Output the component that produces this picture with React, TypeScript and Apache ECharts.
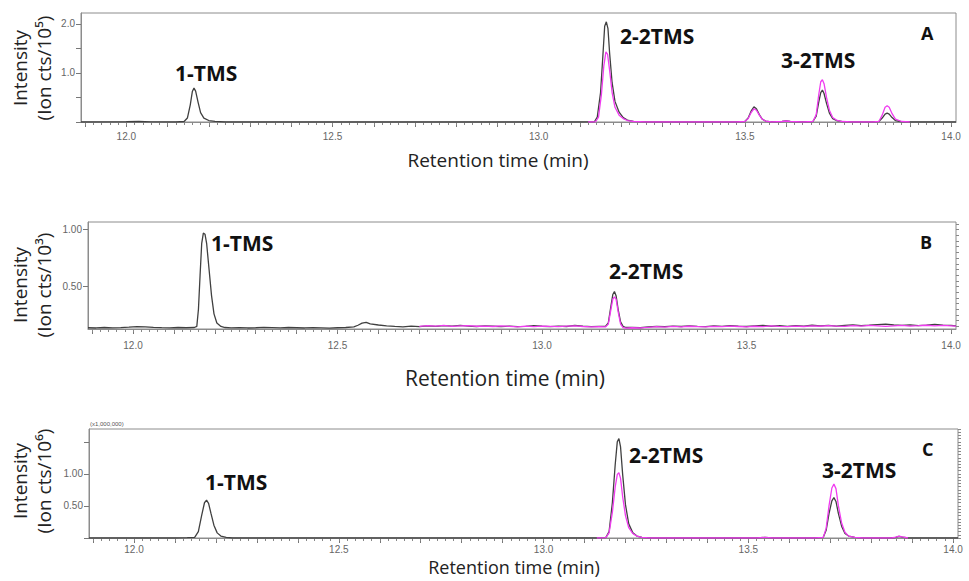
import React, { useEffect, useRef } from "react";
import * as echarts from "echarts";

// ---------- DATA ----------
// Retention time (min) vs intensity. Panel A: ion cts / 1e5
const aBlack: number[][] = [
  [11.89, 0], [12.0, 0.005], [12.03, 0.01], [12.06, 0.004], [12.12, 0], [12.14, 0.01], [12.148, 0.08], [12.155, 0.35],
  [12.16, 0.62], [12.164, 0.69], [12.168, 0.63], [12.174, 0.4], [12.18, 0.19], [12.188, 0.08],
  [12.2, 0.03], [12.215, 0.012], [12.24, 0], [12.7, 0], [13.1, 0], [13.135, 0.005], [13.142, 0.1],
  [13.15, 0.6], [13.156, 1.4], [13.16, 1.95], [13.164, 2.04], [13.168, 1.9], [13.172, 1.4],
  [13.178, 0.8], [13.185, 0.42], [13.195, 0.2], [13.205, 0.09], [13.215, 0.04], [13.23, 0.012],
  [13.26, 0], [13.48, 0], [13.5, 0.01], [13.508, 0.08], [13.515, 0.22], [13.522, 0.31],
  [13.528, 0.27], [13.535, 0.15], [13.542, 0.06], [13.55, 0.02], [13.565, 0], [13.59, 0.01],
  [13.6, 0.02], [13.61, 0.01], [13.64, 0], [13.665, 0.01], [13.673, 0.12], [13.679, 0.4],
  [13.684, 0.6], [13.688, 0.65], [13.692, 0.58], [13.698, 0.38], [13.705, 0.18], [13.713, 0.07],
  [13.722, 0.03], [13.735, 0.01], [13.76, 0], [13.81, 0], [13.825, 0.01], [13.833, 0.08],
  [13.84, 0.16], [13.845, 0.18], [13.85, 0.16], [13.857, 0.09], [13.865, 0.03], [13.88, 0.005],
  [13.9, 0], [14.012, 0],
];
const aMagenta: number[][] = [
  [13.12, 0], [13.138, 0.005], [13.145, 0.1], [13.152, 0.55], [13.158, 1.15],
  [13.163, 1.43], [13.167, 1.38], [13.172, 1.05], [13.178, 0.6], [13.185, 0.3], [13.195, 0.14],
  [13.205, 0.07], [13.215, 0.03], [13.23, 0.01], [13.26, 0], [13.48, 0], [13.5, 0.01],
  [13.508, 0.07], [13.515, 0.19], [13.522, 0.27], [13.528, 0.24], [13.535, 0.14], [13.542, 0.06],
  [13.55, 0.02], [13.565, 0], [13.59, 0.01], [13.6, 0.02], [13.61, 0.01], [13.64, 0],
  [13.665, 0.01], [13.673, 0.15], [13.679, 0.55], [13.684, 0.82], [13.688, 0.86], [13.692, 0.78],
  [13.698, 0.5], [13.705, 0.24], [13.713, 0.09], [13.722, 0.04], [13.735, 0.01], [13.76, 0],
  [13.81, 0], [13.825, 0.01], [13.833, 0.14], [13.84, 0.3], [13.845, 0.33], [13.85, 0.3],
  [13.857, 0.17], [13.865, 0.06], [13.88, 0.01], [13.9, 0],
];

// Panel B: ion cts / 1e3
const bBlack: number[][] = [
  [11.89, 0.138], [11.91, 0.136], [11.93, 0.14], [11.95, 0.137], [11.97, 0.139], [11.99, 0.143],
  [12.01, 0.148], [12.03, 0.146], [12.05, 0.142], [12.07, 0.139], [12.09, 0.137], [12.11, 0.14],
  [12.13, 0.138], [12.15, 0.14], [12.156, 0.15], [12.16, 0.3], [12.164, 0.6], [12.168, 0.88],
  [12.172, 0.97], [12.176, 0.96], [12.18, 0.88], [12.186, 0.65], [12.192, 0.42], [12.198, 0.26],
  [12.205, 0.18], [12.215, 0.15], [12.225, 0.14], [12.24, 0.137], [12.26, 0.139], [12.28, 0.136],
  [12.3, 0.138], [12.32, 0.141], [12.34, 0.139], [12.36, 0.137], [12.38, 0.14], [12.4, 0.138],
  [12.42, 0.136], [12.44, 0.139], [12.46, 0.137], [12.48, 0.135], [12.5, 0.138], [12.52, 0.14],
  [12.54, 0.145], [12.55, 0.16], [12.56, 0.178], [12.57, 0.185], [12.58, 0.172], [12.6, 0.162],
  [12.62, 0.155], [12.64, 0.15], [12.66, 0.146], [12.68, 0.152], [12.7, 0.148], [12.72, 0.155],
  [12.74, 0.15], [12.76, 0.156], [12.78, 0.152], [12.8, 0.158], [12.82, 0.153], [12.84, 0.149],
  [12.86, 0.155], [12.88, 0.151], [12.9, 0.147], [12.92, 0.152], [12.94, 0.148], [12.96, 0.15],
  [12.98, 0.156], [13.0, 0.151], [13.02, 0.148], [13.04, 0.153], [13.06, 0.149], [13.08, 0.158],
  [13.1, 0.151], [13.12, 0.148], [13.14, 0.15], [13.155, 0.15], [13.162, 0.18], [13.168, 0.32],
  [13.173, 0.43], [13.177, 0.456], [13.181, 0.42], [13.186, 0.3], [13.192, 0.19], [13.198, 0.15],
  [13.205, 0.14], [13.22, 0.142], [13.24, 0.138], [13.26, 0.145], [13.28, 0.15], [13.3, 0.147],
  [13.32, 0.153], [13.34, 0.149], [13.36, 0.155], [13.38, 0.15], [13.4, 0.148], [13.42, 0.154],
  [13.44, 0.15], [13.46, 0.157], [13.48, 0.152], [13.5, 0.149], [13.52, 0.155], [13.54, 0.158],
  [13.56, 0.151], [13.58, 0.156], [13.6, 0.15], [13.62, 0.157], [13.64, 0.153], [13.66, 0.16],
  [13.68, 0.154], [13.7, 0.158], [13.72, 0.152], [13.74, 0.159], [13.76, 0.163], [13.78, 0.156],
  [13.8, 0.16], [13.82, 0.166], [13.84, 0.17], [13.86, 0.162], [13.88, 0.158], [13.9, 0.163],
  [13.92, 0.157], [13.94, 0.161], [13.96, 0.168], [13.98, 0.16], [14.0, 0.158], [14.012, 0.155],
];
const bMagenta: number[][] = [
  [12.7, 0.15], [12.72, 0.156], [12.74, 0.152], [12.76, 0.158], [12.78, 0.15], [12.8, 0.155],
  [12.82, 0.157], [12.84, 0.151], [12.86, 0.153], [12.88, 0.149], [12.9, 0.154], [12.92, 0.15],
  [12.94, 0.146], [12.96, 0.152], [12.98, 0.148], [13.0, 0.153], [13.02, 0.15], [13.04, 0.147],
  [13.06, 0.152], [13.08, 0.155], [13.1, 0.149], [13.12, 0.146], [13.14, 0.148], [13.155, 0.145],
  [13.162, 0.17], [13.168, 0.29], [13.173, 0.39], [13.177, 0.41], [13.181, 0.39], [13.186, 0.28],
  [13.192, 0.17], [13.198, 0.14], [13.205, 0.135], [13.22, 0.138], [13.24, 0.136], [13.26, 0.142],
  [13.28, 0.147], [13.3, 0.144], [13.32, 0.15], [13.34, 0.146], [13.36, 0.151], [13.38, 0.148],
  [13.4, 0.145], [13.42, 0.15], [13.44, 0.147], [13.46, 0.152], [13.48, 0.149], [13.5, 0.146],
  [13.52, 0.151], [13.54, 0.148], [13.56, 0.154], [13.58, 0.15], [13.6, 0.147], [13.62, 0.152],
  [13.64, 0.149], [13.66, 0.155], [13.68, 0.151], [13.7, 0.157], [13.72, 0.153], [13.74, 0.15],
  [13.76, 0.156], [13.78, 0.152], [13.8, 0.158], [13.82, 0.154], [13.84, 0.15], [13.86, 0.155],
  [13.88, 0.159], [13.9, 0.153], [13.92, 0.156], [13.94, 0.16], [13.96, 0.154], [13.98, 0.158],
  [14.0, 0.155], [14.012, 0.152],
];

// Panel C: ion cts / 1e6
const cBlack: number[][] = [
  [11.89, 0], [12.1, 0], [12.13, 0.005], [12.148, 0.01], [12.157, 0.1], [12.165, 0.35],
  [12.172, 0.55], [12.177, 0.59], [12.182, 0.54], [12.188, 0.38], [12.195, 0.2], [12.203, 0.08],
  [12.212, 0.03], [12.225, 0.01], [12.24, 0], [13.13, 0], [13.152, 0.005], [13.16, 0.1],
  [13.168, 0.55], [13.175, 1.15], [13.18, 1.5], [13.184, 1.55], [13.188, 1.42], [13.193, 1.0],
  [13.2, 0.52], [13.208, 0.22], [13.218, 0.08], [13.228, 0.03], [13.24, 0.01], [13.26, 0],
  [13.52, 0], [13.54, 0.01], [13.56, 0], [13.66, 0], [13.683, 0.01], [13.69, 0.12], [13.697, 0.38],
  [13.704, 0.58], [13.709, 0.63], [13.714, 0.57], [13.72, 0.38], [13.728, 0.18], [13.736, 0.07],
  [13.745, 0.03], [13.76, 0.01], [13.78, 0], [13.85, 0], [13.86, 0.01], [13.868, 0.025],
  [13.876, 0.015], [13.89, 0], [14.012, 0],
];
const cMagenta: number[][] = [
  [13.13, 0], [13.152, 0.005], [13.16, 0.08], [13.168, 0.4], [13.175, 0.8],
  [13.18, 0.99], [13.184, 1.02], [13.188, 0.93], [13.193, 0.65], [13.2, 0.35], [13.208, 0.16],
  [13.218, 0.07], [13.228, 0.03], [13.24, 0.01], [13.26, 0], [13.52, 0], [13.54, 0.01], [13.56, 0],
  [13.66, 0], [13.683, 0.01], [13.69, 0.15], [13.697, 0.5], [13.704, 0.78], [13.709, 0.84],
  [13.714, 0.77], [13.72, 0.5], [13.728, 0.23], [13.736, 0.09], [13.745, 0.03], [13.76, 0.01],
  [13.78, 0], [13.85, 0], [13.86, 0.012], [13.868, 0.03], [13.876, 0.018], [13.89, 0],
];

const xLabelValues = [12.0, 12.5, 13.0, 13.5, 14.0];
const aYLabels = [1.0, 2.0];
const bYLabels = [0.5, 1.0];
const cYLabels = [0.5, 1.0];
const peakLabels = ["1-TMS", "2-2TMS", "3-2TMS"];
const panelLetters = ["A", "B", "C"];
const yUnits = ["(Ion cts/10\u2075)", "(Ion cts/10\u00B3)", "(Ion cts/10\u2076)"];

// ---------- helpers ----------
function steps(from: number, to: number, step: number): number[] {
  const out: number[] = [];
  const n = Math.round((to - from) / step);
  for (let i = 0; i <= n; i++) out.push(Math.round((from + i * step) * 1000) / 1000);
  return out;
}

const X_MIN = 11.89;
const X_MAX = 14.012;
const AXIS_COLOR = "#8c8c8c";
const LABEL_FONT = "'Liberation Sans', Arial, sans-serif";
const TITLE_FONT = "'Open Sans', 'Noto Sans', sans-serif";
const BLACK = "#404040";
const MAGENTA = "#f03cf0";

export default function App() {
  const ref = useRef<HTMLDivElement>(null);

  useEffect(() => {
    if (!ref.current) return;
    const chart = echarts.init(ref.current, undefined, { renderer: "svg" });

    const grids = [
      { left: 81, top: 13, width: 875, height: 109 },
      { left: 88, top: 222, width: 868, height: 107 },
      { left: 89, top: 429, width: 869, height: 109 },
    ];
    const yRanges = [
      { min: 0, max: 2.22, labels: aYLabels, dec: 1, major: steps(0, 2.0, 0.5), minor: [] as number[] },
      { min: 0.127, max: 1.067, labels: bYLabels, dec: 2, major: steps(0.5, 1.0, 0.5), minor: steps(0.15, 1.05, 0.05) },
      { min: 0, max: 1.7, labels: cYLabels, dec: 2, major: steps(0, 1.5, 0.5), minor: steps(0, 1.7, 0.05) },
    ];
    const xMajor = steps(11.9, 14.0, 0.1);
    const xMinor = steps(11.9, 14.0, 0.02);

    const xAxis: any[] = [];
    const yAxis: any[] = [];
    grids.forEach((_, i) => {
      xAxis.push({
        type: "value", gridIndex: i, min: X_MIN, max: X_MAX, position: "bottom",
        axisLine: { show: true, lineStyle: { color: AXIS_COLOR, width: 1 } },
        axisTick: { show: true, customValues: xMajor, length: 5, lineStyle: { color: "#777" } },
        axisLabel: {
          customValues: xLabelValues, formatter: (v: number) => v.toFixed(1),
          color: "#666", fontSize: 10, fontFamily: LABEL_FONT, margin: i === 0 ? 9 : i === 1 ? 11 : 6,
        },
        splitLine: { show: false },
      });
      xAxis.push({
        type: "value", gridIndex: i, min: X_MIN, max: X_MAX, position: "bottom",
        axisLine: { show: false },
        axisTick: { show: true, customValues: xMinor, length: 3, lineStyle: { color: "#888" } },
        axisLabel: { show: false },
        splitLine: { show: false },
      });
      const yr = yRanges[i];
      yAxis.push({
        type: "value", gridIndex: i, min: yr.min, max: yr.max,
        axisLine: { show: true, lineStyle: { color: AXIS_COLOR, width: 1 } },
        axisTick: { show: true, customValues: yr.major, length: 5, lineStyle: { color: "#777" } },
        axisLabel: {
          customValues: yr.labels, formatter: (v: number) => v.toFixed(yr.dec),
          color: "#666", fontSize: 10, fontFamily: LABEL_FONT, margin: 6,
        },
        splitLine: { show: false },
      });
      yAxis.push({
        type: "value", gridIndex: i, min: yr.min, max: yr.max,
        axisLine: { show: false },
        axisTick: { show: yr.minor.length > 0, customValues: yr.minor.length ? yr.minor : [yr.min], length: 3, lineStyle: { color: "#888" } },
        axisLabel: { show: false },
        splitLine: { show: false },
      });
    });

    const mk = (name: string, data: number[][], gi: number, color: string, z: number) => ({
      name, type: "line", data, xAxisIndex: gi * 2, yAxisIndex: gi * 2,
      showSymbol: false, symbol: "none", smooth: false, z,
      lineStyle: { color, width: 1.3 },
    });

    const series = [
      mk("A black", aBlack, 0, BLACK, 2), mk("A magenta", aMagenta, 0, MAGENTA, 3),
      mk("B black", bBlack, 1, BLACK, 2), mk("B magenta", bMagenta, 1, MAGENTA, 3),
      mk("C black", cBlack, 2, BLACK, 2), mk("C magenta", cMagenta, 2, MAGENTA, 3),
    ];

    const peakText = (text: string, x: number, y: number, size = 21) => ({
      type: "text", x, y, z: 10,
      style: {
        text, fill: "#111", fontSize: size, fontWeight: "bold", fontFamily: TITLE_FONT,
        textAlign: "left", textVerticalAlign: "middle",
      },
    });
    const yTitle = (i: number, cx: number, cy: number) => ({
      type: "text", x: cx, y: cy, rotation: Math.PI / 2, z: 10,
      style: {
        text: "Intensity\n" + yUnits[i], fill: "#222", fontSize: 19, fontFamily: TITLE_FONT,
        textAlign: "center", textVerticalAlign: "middle", lineHeight: 24,
      },
    });
    const xTitle = (cx: number, cy: number, size: number) => ({
      type: "text", x: cx, y: cy, z: 10,
      style: {
        text: "Retention time (min)", fill: "#222", fontSize: size, fontFamily: TITLE_FONT,
        textAlign: "center", textVerticalAlign: "middle",
      },
    });

    const graphic = [
      peakText(peakLabels[0], 175, 73), peakText(peakLabels[1], 620, 36), peakText(peakLabels[2], 781, 60),
      peakText(panelLetters[0], 921, 33, 18),
      peakText(peakLabels[0], 211, 243), peakText(peakLabels[1], 609, 271),
      peakText(panelLetters[1], 920, 242, 18),
      peakText(peakLabels[0], 205, 482), peakText(peakLabels[1], 629, 455), peakText(peakLabels[2], 822, 470),
      peakText(panelLetters[2], 922, 449, 18),
      yTitle(0, 32, 68), yTitle(1, 32, 285), yTitle(2, 32, 481),
      xTitle(498, 160, 19), xTitle(505, 378, 21), xTitle(514, 567, 18),
      {
        type: "text", x: 90, y: 424, z: 10,
        style: { text: "(x1,000,000)", fill: "#555", fontSize: 6, fontFamily: LABEL_FONT, textAlign: "left", textVerticalAlign: "middle" },
      },
    ];

    chart.setOption({
      animation: false,
      backgroundColor: "#ffffff",
      grid: grids.map((g) => ({ ...g, show: true, borderColor: AXIS_COLOR, borderWidth: 1, backgroundColor: "transparent", containLabel: false })),
      xAxis, yAxis, series, graphic,
    });

    return () => chart.dispose();
  }, []);

  return <div ref={ref} style={{ position: "fixed", left: 0, top: 0, width: 969, height: 581, background: "#fff" }} />;
}
